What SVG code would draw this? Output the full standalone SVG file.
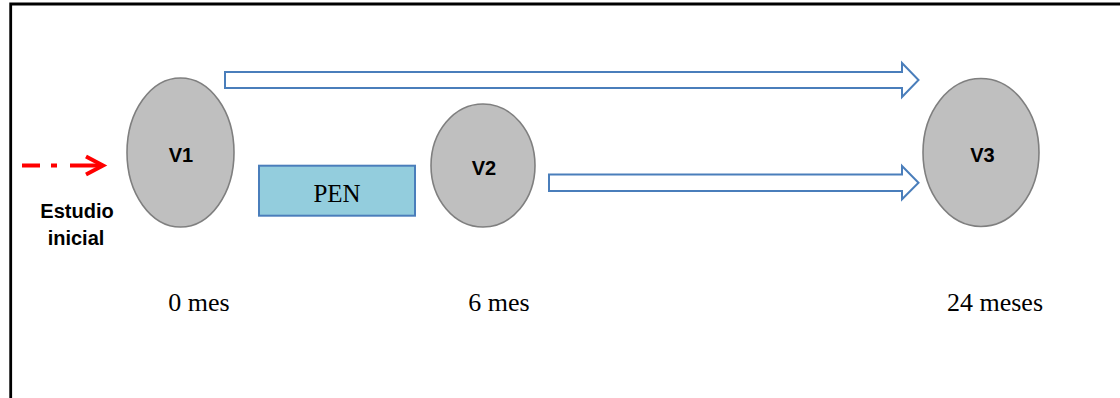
<svg xmlns="http://www.w3.org/2000/svg" width="1120" height="398" viewBox="0 0 1120 398">
<style>
.node ellipse{fill:#bfbfbf;stroke:#7f7f7f;stroke-width:1.6}
.lbl{font-family:"Liberation Sans",Arial,sans-serif;font-weight:bold;font-size:20px;fill:#000;text-anchor:middle}
.time{font-family:"Liberation Serif","Times New Roman",serif;font-size:26px;fill:#000;text-anchor:middle}
.block{fill:#fff;stroke:#4a7ebb;stroke-width:2;stroke-linejoin:miter}
</style>
<rect width="1120" height="398" fill="#fff"/>
<path d="M10.7,398 V4 H1120" fill="none" stroke="#000" stroke-width="2.8"/>
<g id="connectors">
<path class="block" d="M225,72 H902 V63 L918.5,80 L902,97 V88 H225 Z"/>
<path class="block" d="M549,174.5 H902 V166 L918.5,182.7 L902,199.3 V191 H549 Z"/>
<path d="M22,165.5 H100" fill="none" stroke="#ff0000" stroke-width="4" stroke-dasharray="18 11 6 13 40"/>
<polyline points="86,156.5 103,165.5 86,174.5" fill="none" stroke="#ff0000" stroke-width="4"/>
</g>
<g id="estudio">
<text class="lbl" x="77" y="217.5">Estudio</text>
<text class="lbl" x="76" y="244.5">inicial</text>
</g>
<g id="v1" class="node">
<ellipse cx="180.5" cy="152.5" rx="53.5" ry="74.5"/>
<text class="lbl" x="181" y="161.7">V1</text>
</g>
<g id="pen">
<rect x="259" y="165.7" width="156" height="50" fill="#93cddd" stroke="#4a7ebb" stroke-width="2"/>
<text x="337" y="201.7" font-family="'Liberation Serif','Times New Roman',serif" font-size="25" text-anchor="middle" fill="#000">PEN</text>
</g>
<g id="v2" class="node">
<ellipse cx="483" cy="165.5" rx="52" ry="61.5"/>
<text class="lbl" x="484" y="175">V2</text>
</g>
<g id="v3" class="node">
<ellipse cx="981" cy="152.5" rx="58" ry="74"/>
<text class="lbl" x="982.5" y="161.7">V3</text>
</g>
<g id="times">
<text class="time" x="199" y="311">0 mes</text>
<text class="time" x="499" y="311">6 mes</text>
<text class="time" x="995" y="311">24 meses</text>
</g>
</svg>
